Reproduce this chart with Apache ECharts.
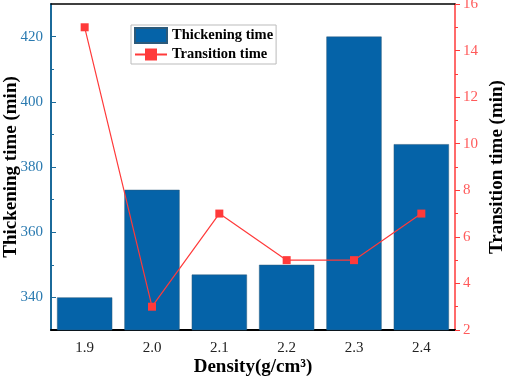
<!DOCTYPE html>
<html>
<head>
<meta charset="utf-8">
<script src="https://cdn.jsdelivr.net/npm/echarts@6/dist/echarts.min.js"></script>
<style>
  html, body { margin: 0; padding: 0; background: #fff; }
  #chart { width: 505px; height: 380px; }
</style>
</head>
<body>
<div id="chart"></div>
<script>
// 数据
const densities = ["1.9", "2.0", "2.1", "2.2", "2.3", "2.4"];
const thickeningTime = [340, 373, 347, 350, 420, 387];
const transitionTime = [15, 3, 7, 5, 5, 7];
const leftTicks = [340, 360, 380, 400, 420];
const leftMinorTicks = [350, 370, 390, 410];

const serif = "'Liberation Serif', 'DejaVu Serif', serif";
const blue = "#0563a8";
const red = "#ff3a3a";
const nameStyle = { fontFamily: serif, fontWeight: "bold", fontSize: 19, color: "#000" };

const myChart = echarts.init(document.getElementById("chart"));
myChart.setOption({
  animation: false,
  grid: { left: 51, right: 50, top: 4, bottom: 50, containLabel: false, outerBoundsMode: "none" },
  legend: {
    left: 131,
    top: 25,
    orient: "vertical",
    itemGap: 3,
    itemWidth: 32,
    itemHeight: 15,
    padding: [2, 3, 2, 3],
    borderColor: "#bbb",
    borderWidth: 1,
    textStyle: { fontFamily: serif, fontWeight: "bold", fontSize: 14.5, color: "#000" },
    data: [
      { name: "Thickening time", icon: "rect" },
      { name: "Transition time" },
    ],
  },
  xAxis: [
    {
      type: "category",
      data: densities,
      name: "Density(g/cm³)",
      nameLocation: "middle",
      nameGap: 28,
      nameMoveOverlap: false,
      nameTextStyle: nameStyle,
      axisLine: { lineStyle: { color: "#000", width: 2 } },
      axisTick: { alignWithLabel: true, inside: true, length: 5, lineStyle: { color: "#000" } },
      axisLabel: { fontFamily: serif, fontSize: 15, color: "#222", margin: 11 },
    },
    {
      type: "category",
      data: densities,
      position: "top",
      axisLine: { lineStyle: { color: "#000", width: 1.5 } },
      axisTick: { show: false },
      axisLabel: { show: false },
    },
    {
      type: "category",
      data: densities,
      position: "bottom",
      axisLine: { show: false },
      axisTick: { inside: true, length: 3, lineStyle: { color: "#000" } },
      axisLabel: { show: false },
    },
  ],
  yAxis: [
    {
      type: "value",
      min: 330,
      max: 430,
      position: "left",
      name: "Thickening time (min)",
      nameLocation: "middle",
      nameGap: 30,
      nameMoveOverlap: false,
      nameTextStyle: nameStyle,
      splitLine: { show: false },
      axisLine: { show: true, lineStyle: { color: "#1b6a9a", width: 2 } },
      axisTick: { show: true, inside: true, length: 5, customValues: leftTicks, lineStyle: { color: "#1b6a9a" } },
      axisLabel: { customValues: leftTicks, fontFamily: serif, fontSize: 15, color: "#2a7ab0", margin: 8 },
    },
    {
      type: "value",
      min: 2,
      max: 16,
      interval: 2,
      position: "right",
      name: "Transition time (min)",
      nameLocation: "middle",
      nameGap: 33,
      nameRotate: 90,
      nameMoveOverlap: false,
      nameTextStyle: nameStyle,
      splitLine: { show: false },
      axisLine: { show: true, lineStyle: { color: red, width: 1.5 } },
      axisTick: { show: true, length: 5, lineStyle: { color: red } },
      minorTick: { show: true, splitNumber: 2, length: 3, lineStyle: { color: red } },
      axisLabel: { fontFamily: serif, fontSize: 15, color: "#ff5a5a", margin: 8 },
    },
    {
      type: "value",
      min: 330,
      max: 430,
      position: "left",
      splitLine: { show: false },
      axisLine: { show: false },
      axisTick: { show: true, inside: true, length: 3, customValues: leftMinorTicks, lineStyle: { color: "#1b6a9a" } },
      axisLabel: { show: false },
    },
  ],
  series: [
    {
      name: "Thickening time",
      type: "bar",
      data: thickeningTime,
      barCategoryGap: "18%",
      itemStyle: { color: blue, borderColor: "#2c5a7a", borderWidth: 0.5 },
    },
    {
      name: "Transition time",
      type: "line",
      yAxisIndex: 1,
      data: transitionTime,
      symbol: "rect",
      symbolSize: 8,
      lineStyle: { color: red, width: 1.2 },
      itemStyle: { color: red },
    },
  ],
});
</script>
</body>
</html>
